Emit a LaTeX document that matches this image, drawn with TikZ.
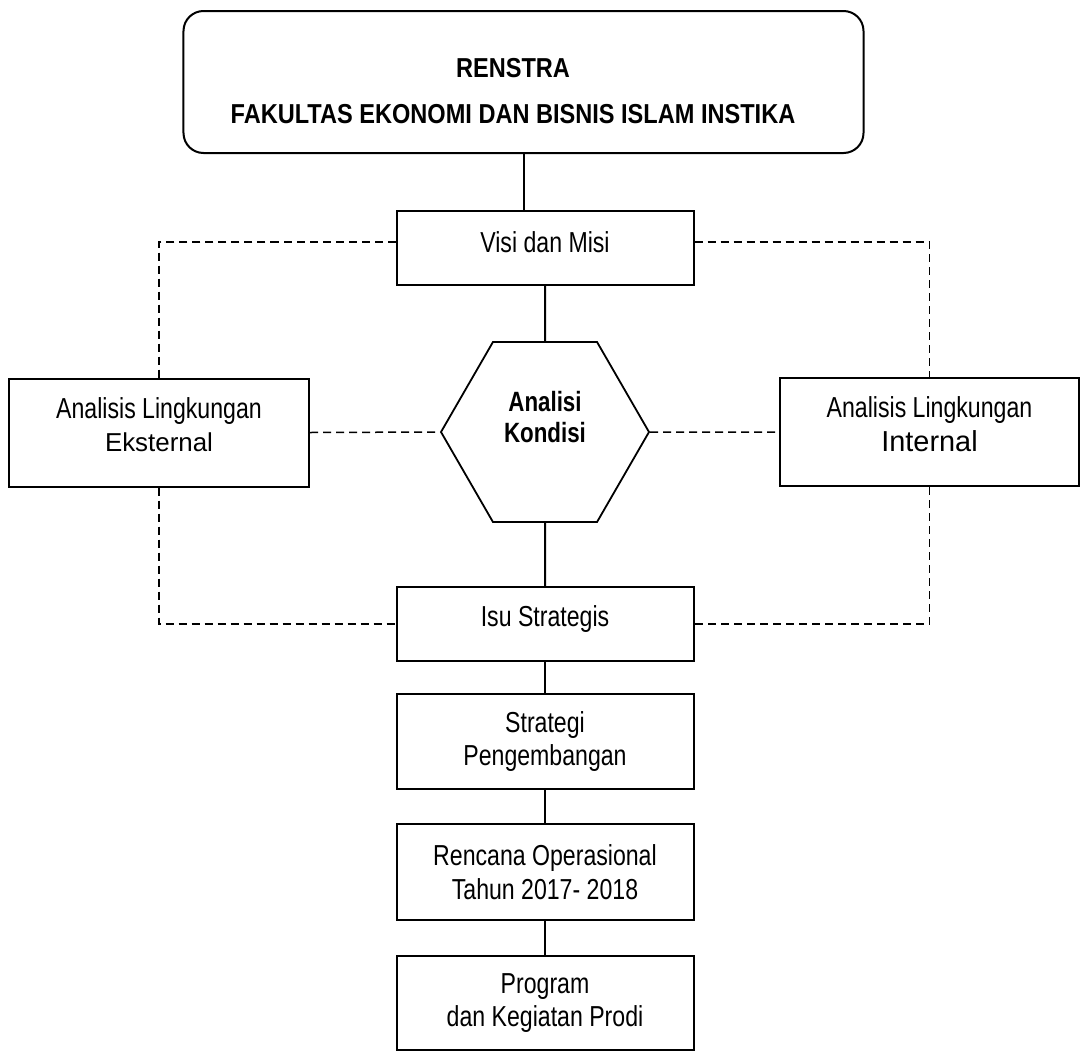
\documentclass[tikz,border=0pt]{standalone}
\usepackage{fontspec}
\setmainfont{Liberation Sans}[FakeStretch=0.8]
\newfontfamily\titlefont{Liberation Sans}[FakeStretch=0.86]
\newfontfamily\widefont{Liberation Sans}
\usetikzlibrary{positioning,shapes.geometric}

\begin{document}
\begin{tikzpicture}
    [x=1bp,y=-1bp,
      box/.style={rectangle,draw,line width=2bp,minimum width=297bp,
        minimum height=74bp,align=center,inner sep=0pt,
        font=\fontsize{29}{34}\selectfont},
      sidebox/.style={box,minimum width=299bp,minimum height=108bp,text depth=16bp},
      hexa/.style={regular polygon,regular polygon sides=6,draw,
        line width=1.8bp,minimum size=208bp,inner sep=0pt,align=center,
        font=\bfseries\fontsize{28}{31}\selectfont},
      link/.style={line width=2bp},
      dashline/.style={line width=1.5bp,dash pattern=on 8bp off 5bp}]

    \useasboundingbox (0,0) rectangle (1080,1052);

    \node [rectangle,draw,line width=2bp,rounded corners=20bp,
      minimum width=680bp,minimum height=142bp] (renstra) at (523.5,82) {};
    \node [align=center,font=\titlefont\bfseries\fontsize{27.5}{46}\selectfont]
      (judul) at (513,91) {RENSTRA\\FAKULTAS EKONOMI DAN BISNIS ISLAM INSTIKA};

    \node [box,text depth=12bp] (visi) at (545,248) {Visi dan Misi};
    \node [hexa] (kondisi) at (545,432) {Analisi\\Kondisi\\\mbox{}};
    \node [box,text depth=15bp] (isu) at (545,624) {Isu Strategis};
    \node [box,minimum height=95bp,below=31bp of isu] (strategi) {Strategi\\Pengembangan};
    \node [box,minimum height=96bp,below=33bp of strategi] (rencana) {Rencana Operasional\\Tahun 2017- 2018};
    \node [box,minimum height=94bp,below=34bp of rencana] (program) {Program\\ dan Kegiatan Prodi};

    \node [sidebox,minimum width=300bp] (ekst) at (159,432.5)
      {Analisis Lingkungan\\{\widefont\fontsize{26}{34}\selectfont Eksternal}};
    \node [sidebox] (intr) at (929.5,432)
      {Analisis Lingkungan\\{\widefont\fontsize{29}{34}\selectfont Internal}};

    % main line
    \draw [link] (renstra.south) -- (renstra.south |- visi.north);
    \draw [link] (visi.south) -- (kondisi.north);
    \draw [link] (kondisi.south) -- (isu.north);
    \draw [link] (isu) -- (strategi);
    \draw [link] (strategi) -- (rencana);
    \draw [link] (rencana) -- (program);

    % analisis lingkungan
    \draw [dashline] ([yshift=6bp]visi.west) -| (ekst.north);
    \draw [dashline] ([yshift=6bp]visi.east) -| (intr.north);
    \draw [dashline] (ekst.east) -- (kondisi.west);
    \draw [dashline] (kondisi.east) -- (intr.west);
    \draw [dashline] (ekst.south) |- (isu.west);
    \draw [dashline] (intr.south) |- (isu.east);
  \end{tikzpicture}
\end{document}
